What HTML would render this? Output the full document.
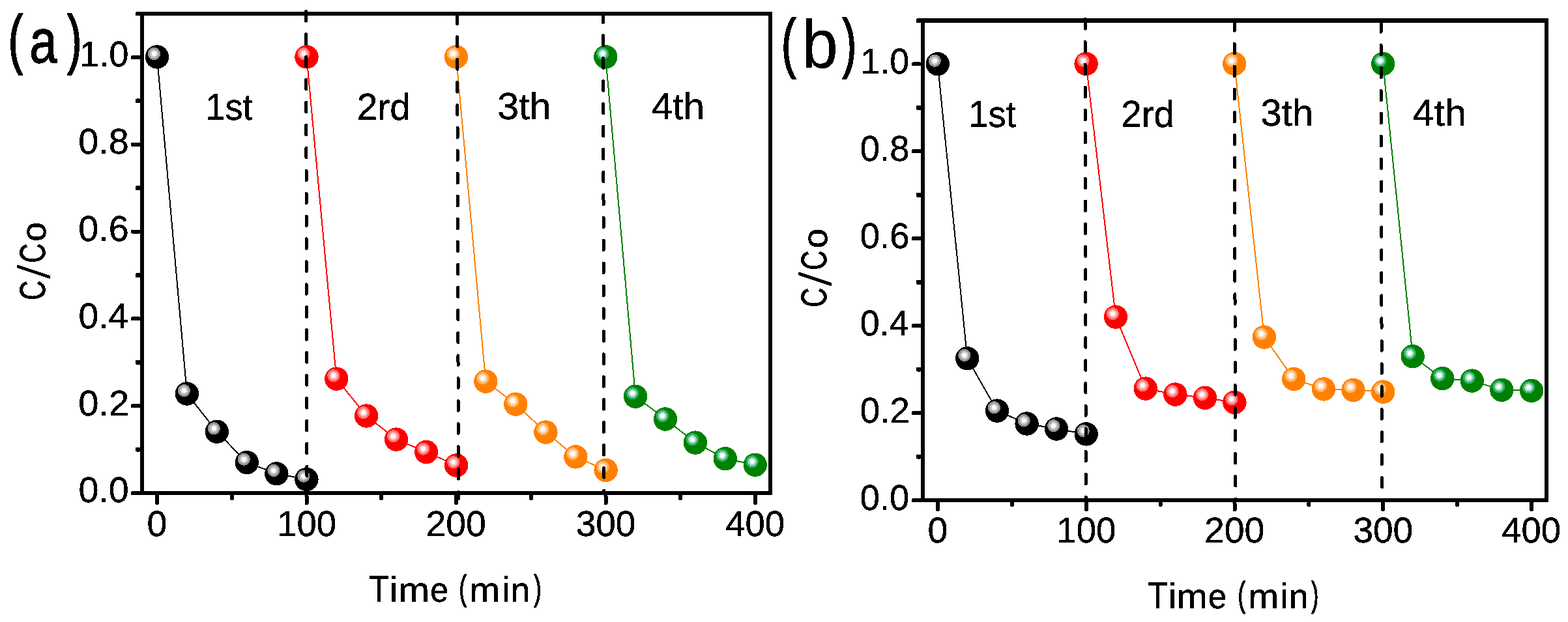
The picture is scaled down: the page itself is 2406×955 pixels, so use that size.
<!DOCTYPE html>
<html lang="en"><head><meta charset="utf-8"><title>C/Co vs Time (min) - panels (a) and (b)</title>
<style>html,body{margin:0;padding:0;background:#fff}body{width:2406px;height:955px;overflow:hidden}svg{display:block}</style>
</head><body>
<svg width="2406" height="955" viewBox="0 0 2406 955" shape-rendering="crispEdges">
<defs><filter id="hard" x="0" y="0" width="2406" height="955" filterUnits="userSpaceOnUse" color-interpolation-filters="sRGB"><feComponentTransfer><feFuncA type="discrete" tableValues="0 1"/></feComponentTransfer></filter></defs>
<rect width="2406" height="955" fill="#fff"/>
<g id="panel-a">
<g fill="none" stroke-width="2" stroke-linejoin="round">
<path d="M241.0,87.4 L286.9,604.5 L332.8,662.7 L378.8,710.1 L424.4,727.3 L470.4,736.0" stroke="#000000"/>
<path d="M470.5,87.4 L516.3,581.6 L562.2,638.5 L608.1,674.6 L654.1,694.0 L700.2,714.5" stroke="#ff0000"/>
<path d="M700.0,87.4 L745.3,585.6 L791.3,620.6 L837.4,663.6 L883.4,701.4 L929.6,721.9" stroke="#ff8000"/>
<path d="M929.3,87.4 L975.1,608.7 L1021.0,643.5 L1066.9,679.6 L1112.8,704.2 L1158.7,713.7" stroke="#008000"/>
</g>
<circle cx="241.0" cy="87.4" r="18.2" fill="#000000"/><circle cx="236.5" cy="82.5" r="9.6" fill="#969696"/><circle cx="236.5" cy="82.5" r="6.5" fill="#cacaca"/><circle cx="236.5" cy="82.5" r="3.6" fill="#fdfdfd"/>
<circle cx="286.9" cy="604.5" r="18.2" fill="#000000"/><circle cx="282.4" cy="599.6" r="9.6" fill="#969696"/><circle cx="282.4" cy="599.6" r="6.5" fill="#cacaca"/><circle cx="282.4" cy="599.6" r="3.6" fill="#fdfdfd"/>
<circle cx="332.8" cy="662.7" r="18.2" fill="#000000"/><circle cx="328.3" cy="657.8" r="9.6" fill="#969696"/><circle cx="328.3" cy="657.8" r="6.5" fill="#cacaca"/><circle cx="328.3" cy="657.8" r="3.6" fill="#fdfdfd"/>
<circle cx="378.8" cy="710.1" r="18.2" fill="#000000"/><circle cx="374.3" cy="705.2" r="9.6" fill="#969696"/><circle cx="374.3" cy="705.2" r="6.5" fill="#cacaca"/><circle cx="374.3" cy="705.2" r="3.6" fill="#fdfdfd"/>
<circle cx="424.4" cy="727.3" r="18.2" fill="#000000"/><circle cx="419.9" cy="722.4" r="9.6" fill="#969696"/><circle cx="419.9" cy="722.4" r="6.5" fill="#cacaca"/><circle cx="419.9" cy="722.4" r="3.6" fill="#fdfdfd"/>
<circle cx="470.4" cy="736.0" r="18.2" fill="#000000"/><circle cx="465.9" cy="731.1" r="9.6" fill="#969696"/><circle cx="465.9" cy="731.1" r="6.5" fill="#cacaca"/><circle cx="465.9" cy="731.1" r="3.6" fill="#fdfdfd"/>
<circle cx="470.5" cy="87.4" r="18.2" fill="#ff0000"/><circle cx="466.0" cy="82.5" r="9.6" fill="#ff7474"/><circle cx="466.0" cy="82.5" r="6.5" fill="#ffbaba"/><circle cx="466.0" cy="82.5" r="3.6" fill="#fff8f8"/>
<circle cx="516.3" cy="581.6" r="18.2" fill="#ff0000"/><circle cx="511.8" cy="576.7" r="9.6" fill="#ff7474"/><circle cx="511.8" cy="576.7" r="6.5" fill="#ffbaba"/><circle cx="511.8" cy="576.7" r="3.6" fill="#fff8f8"/>
<circle cx="562.2" cy="638.5" r="18.2" fill="#ff0000"/><circle cx="557.7" cy="633.6" r="9.6" fill="#ff7474"/><circle cx="557.7" cy="633.6" r="6.5" fill="#ffbaba"/><circle cx="557.7" cy="633.6" r="3.6" fill="#fff8f8"/>
<circle cx="608.1" cy="674.6" r="18.2" fill="#ff0000"/><circle cx="603.6" cy="669.7" r="9.6" fill="#ff7474"/><circle cx="603.6" cy="669.7" r="6.5" fill="#ffbaba"/><circle cx="603.6" cy="669.7" r="3.6" fill="#fff8f8"/>
<circle cx="654.1" cy="694.0" r="18.2" fill="#ff0000"/><circle cx="649.6" cy="689.1" r="9.6" fill="#ff7474"/><circle cx="649.6" cy="689.1" r="6.5" fill="#ffbaba"/><circle cx="649.6" cy="689.1" r="3.6" fill="#fff8f8"/>
<circle cx="700.2" cy="714.5" r="18.2" fill="#ff0000"/><circle cx="695.7" cy="709.6" r="9.6" fill="#ff7474"/><circle cx="695.7" cy="709.6" r="6.5" fill="#ffbaba"/><circle cx="695.7" cy="709.6" r="3.6" fill="#fff8f8"/>
<circle cx="700.0" cy="87.4" r="18.2" fill="#ff8000"/><circle cx="695.5" cy="82.5" r="9.6" fill="#ffb364"/><circle cx="695.5" cy="82.5" r="6.5" fill="#ffdcb8"/><circle cx="695.5" cy="82.5" r="3.6" fill="#fffaf6"/>
<circle cx="745.3" cy="585.6" r="18.2" fill="#ff8000"/><circle cx="740.8" cy="580.7" r="9.6" fill="#ffb364"/><circle cx="740.8" cy="580.7" r="6.5" fill="#ffdcb8"/><circle cx="740.8" cy="580.7" r="3.6" fill="#fffaf6"/>
<circle cx="791.3" cy="620.6" r="18.2" fill="#ff8000"/><circle cx="786.8" cy="615.7" r="9.6" fill="#ffb364"/><circle cx="786.8" cy="615.7" r="6.5" fill="#ffdcb8"/><circle cx="786.8" cy="615.7" r="3.6" fill="#fffaf6"/>
<circle cx="837.4" cy="663.6" r="18.2" fill="#ff8000"/><circle cx="832.9" cy="658.7" r="9.6" fill="#ffb364"/><circle cx="832.9" cy="658.7" r="6.5" fill="#ffdcb8"/><circle cx="832.9" cy="658.7" r="3.6" fill="#fffaf6"/>
<circle cx="883.4" cy="701.4" r="18.2" fill="#ff8000"/><circle cx="878.9" cy="696.5" r="9.6" fill="#ffb364"/><circle cx="878.9" cy="696.5" r="6.5" fill="#ffdcb8"/><circle cx="878.9" cy="696.5" r="3.6" fill="#fffaf6"/>
<circle cx="929.6" cy="721.9" r="18.2" fill="#ff8000"/><circle cx="925.1" cy="717.0" r="9.6" fill="#ffb364"/><circle cx="925.1" cy="717.0" r="6.5" fill="#ffdcb8"/><circle cx="925.1" cy="717.0" r="3.6" fill="#fffaf6"/>
<circle cx="929.3" cy="87.4" r="18.2" fill="#008000"/><circle cx="924.8" cy="82.5" r="9.6" fill="#2db56e"/><circle cx="924.8" cy="82.5" r="6.5" fill="#a8dcc0"/><circle cx="924.8" cy="82.5" r="3.6" fill="#f8fcf8"/>
<circle cx="975.1" cy="608.7" r="18.2" fill="#008000"/><circle cx="970.6" cy="603.8" r="9.6" fill="#2db56e"/><circle cx="970.6" cy="603.8" r="6.5" fill="#a8dcc0"/><circle cx="970.6" cy="603.8" r="3.6" fill="#f8fcf8"/>
<circle cx="1021.0" cy="643.5" r="18.2" fill="#008000"/><circle cx="1016.5" cy="638.6" r="9.6" fill="#2db56e"/><circle cx="1016.5" cy="638.6" r="6.5" fill="#a8dcc0"/><circle cx="1016.5" cy="638.6" r="3.6" fill="#f8fcf8"/>
<circle cx="1066.9" cy="679.6" r="18.2" fill="#008000"/><circle cx="1062.4" cy="674.7" r="9.6" fill="#2db56e"/><circle cx="1062.4" cy="674.7" r="6.5" fill="#a8dcc0"/><circle cx="1062.4" cy="674.7" r="3.6" fill="#f8fcf8"/>
<circle cx="1112.8" cy="704.2" r="18.2" fill="#008000"/><circle cx="1108.3" cy="699.3" r="9.6" fill="#2db56e"/><circle cx="1108.3" cy="699.3" r="6.5" fill="#a8dcc0"/><circle cx="1108.3" cy="699.3" r="3.6" fill="#f8fcf8"/>
<circle cx="1158.7" cy="713.7" r="18.2" fill="#008000"/><circle cx="1154.2" cy="708.8" r="9.6" fill="#2db56e"/><circle cx="1154.2" cy="708.8" r="6.5" fill="#a8dcc0"/><circle cx="1154.2" cy="708.8" r="3.6" fill="#f8fcf8"/>
<line x1="469.51" y1="17.50" x2="471" y2="754.50" stroke="#000" stroke-width="5" stroke-linecap="round" stroke-dasharray="14.60 20.34" stroke-dashoffset="0.0"/>
<line x1="701.51" y1="21.80" x2="703.6" y2="765.50" stroke="#000" stroke-width="5" stroke-linecap="round" stroke-dasharray="14.60 20.34" stroke-dashoffset="0.0"/>
<line x1="925.51" y1="20.50" x2="926.8" y2="757.50" stroke="#000" stroke-width="5" stroke-linecap="round" stroke-dasharray="14.60 20.34" stroke-dashoffset="0.8"/>
<rect x="215.00" y="18.00" width="6.00" height="742.00" fill="#000"/>
<rect x="1179.00" y="18.00" width="6.00" height="742.00" fill="#000"/>
<rect x="208.00" y="18.00" width="977.00" height="6.00" fill="#000" rx="2"/>
<rect x="201.00" y="754.00" width="984.00" height="6.00" fill="#000" rx="2"/>
<rect x="201.00" y="754.00" width="15.00" height="6.00" fill="#000" rx="2"/>
<rect x="208.00" y="686.60" width="8.00" height="7.00" fill="#000" rx="2"/>
<rect x="201.00" y="620.20" width="15.00" height="6.00" fill="#000" rx="2"/>
<rect x="208.00" y="552.80" width="8.00" height="7.00" fill="#000" rx="2"/>
<rect x="201.00" y="486.40" width="15.00" height="6.00" fill="#000" rx="2"/>
<rect x="208.00" y="419.00" width="8.00" height="7.00" fill="#000" rx="2"/>
<rect x="201.00" y="352.60" width="15.00" height="6.00" fill="#000" rx="2"/>
<rect x="208.00" y="285.20" width="8.00" height="7.00" fill="#000" rx="2"/>
<rect x="201.00" y="218.80" width="15.00" height="6.00" fill="#000" rx="2"/>
<rect x="208.00" y="151.40" width="8.00" height="7.00" fill="#000" rx="2"/>
<rect x="201.00" y="85.00" width="15.00" height="6.00" fill="#000" rx="2"/>
<rect x="238.00" y="759.00" width="6.00" height="16.00" fill="#000" rx="2.5"/>
<rect x="352.75" y="759.00" width="6.00" height="9.00" fill="#000" rx="2.5"/>
<rect x="467.50" y="759.00" width="6.00" height="16.00" fill="#000" rx="2.5"/>
<rect x="582.25" y="759.00" width="6.00" height="9.00" fill="#000" rx="2.5"/>
<rect x="697.00" y="759.00" width="6.00" height="16.00" fill="#000" rx="2.5"/>
<rect x="811.75" y="759.00" width="6.00" height="9.00" fill="#000" rx="2.5"/>
<rect x="926.50" y="759.00" width="6.00" height="16.00" fill="#000" rx="2.5"/>
<rect x="1041.25" y="759.00" width="6.00" height="9.00" fill="#000" rx="2.5"/>
<rect x="1156.00" y="759.00" width="6.00" height="16.00" fill="#000" rx="2.5"/>
<g font-family='"Liberation Sans", sans-serif' fill="#000" stroke="#000" stroke-width="0.4" filter="url(#hard)">
<text transform="translate(120.38,771.40) scale(0.9848,1)" font-size="56.4">0.0</text>
<text transform="translate(120.36,637.60) scale(0.9943,1)" font-size="56.4">0.2</text>
<text transform="translate(120.40,503.80) scale(0.9774,1)" font-size="56.4">0.4</text>
<text transform="translate(120.37,370.00) scale(0.9886,1)" font-size="56.4">0.6</text>
<text transform="translate(120.37,236.20) scale(0.9886,1)" font-size="56.4">0.8</text>
<text transform="translate(122.03,102.40) scale(0.9632,1)" font-size="56.4">1.0</text>
<text transform="translate(225.59,823.20) scale(0.9803,1)" font-size="56.4">0</text>
<text transform="translate(425.26,823.20) scale(0.9658,1)" font-size="56.4">100</text>
<text transform="translate(653.48,823.20) scale(0.9819,1)" font-size="56.4">200</text>
<text transform="translate(883.69,823.20) scale(0.9742,1)" font-size="56.4">300</text>
<text transform="translate(1113.23,823.20) scale(0.9651,1)" font-size="56.4">400</text>
<text transform="translate(315.44,184.00) scale(0.9502,1)" font-size="57">1st</text>
<text transform="translate(547.76,184.30) scale(0.9954,1)" font-size="57">2rd</text>
<text transform="translate(763.18,183.00) scale(1.0397,1)" font-size="57">3th</text>
<text transform="translate(999.78,183.00) scale(1.0277,1)" font-size="57">4th</text>
<text aria-label="Time (min)" stroke="#000" stroke-linejoin="round"><tspan x="566.32" y="923.75" font-size="56.87" textLength="30.71" lengthAdjust="spacingAndGlyphs" stroke-width="0.5">T</tspan><tspan x="597.95" y="923.75" font-size="54.62" textLength="12.19" lengthAdjust="spacingAndGlyphs" stroke-width="0.5">i</tspan><tspan x="611.18" y="923.75" font-size="53.21" textLength="47.72" lengthAdjust="spacingAndGlyphs" stroke-width="0.5">m</tspan><tspan x="660.13" y="924.01" font-size="53.70" textLength="27.69" lengthAdjust="spacingAndGlyphs" stroke-width="0.5">e</tspan> <tspan x="704.56" y="920.81" font-size="53.94" textLength="11.42" lengthAdjust="spacingAndGlyphs" stroke-width="1.6">(</tspan><tspan x="720.35" y="923.75" font-size="53.21" textLength="46.89" lengthAdjust="spacingAndGlyphs" stroke-width="0.5">m</tspan><tspan x="770.15" y="923.75" font-size="54.62" textLength="12.19" lengthAdjust="spacingAndGlyphs" stroke-width="0.5">i</tspan><tspan x="783.54" y="923.75" font-size="53.21" textLength="29.75" lengthAdjust="spacingAndGlyphs" stroke-width="0.5">n</tspan><tspan x="819.24" y="920.81" font-size="53.94" textLength="11.42" lengthAdjust="spacingAndGlyphs" stroke-width="1.6">)</tspan></text>
<text transform="rotate(-90)" aria-label="C/Co" stroke="#000" stroke-linejoin="round"><tspan x="-460.89" y="69.24" font-size="55.69" textLength="30.26" lengthAdjust="spacingAndGlyphs" stroke-width="0.8">C</tspan><tspan x="-427.30" y="76.26" font-size="74.48" textLength="20.03" lengthAdjust="spacingAndGlyphs" stroke-width="1.8" font-family='"Liberation Serif", serif'>/</tspan><tspan x="-403.69" y="69.24" font-size="55.69" textLength="30.14" lengthAdjust="spacingAndGlyphs" stroke-width="0.8">C</tspan><tspan x="-370.67" y="69.96" font-size="53.70" textLength="29.66" lengthAdjust="spacingAndGlyphs" stroke-width="0.6">o</tspan></text>
<text aria-label="(a)" stroke="#000" stroke-linejoin="round"><tspan x="12.79" y="93.82" font-size="99.20" textLength="22.45" lengthAdjust="spacingAndGlyphs" stroke-width="2.4">(</tspan><tspan x="45.15" y="96.26" font-size="94.06" textLength="42.54" lengthAdjust="spacingAndGlyphs" stroke-width="1.6">a</tspan><tspan x="103.30" y="93.82" font-size="99.20" textLength="22.07" lengthAdjust="spacingAndGlyphs" stroke-width="2.4">)</tspan></text>
</g>
</g>
<g id="panel-b">
<g fill="none" stroke-width="2" stroke-linejoin="round">
<path d="M1438.8,98.2 L1484.3,550.3 L1530.0,630.6 L1575.6,650.5 L1621.1,658.5 L1666.7,666.4" stroke="#000000"/>
<path d="M1666.6,98.0 L1712.0,486.6 L1757.8,596.6 L1803.4,605.6 L1849.0,610.7 L1894.4,617.8" stroke="#ff0000"/>
<path d="M1894.2,98.0 L1939.9,517.6 L1985.3,581.9 L2031.0,597.4 L2076.5,598.9 L2122.2,601.6" stroke="#ff8000"/>
<path d="M2122.2,98.0 L2167.7,547.2 L2213.3,581.1 L2258.7,584.6 L2304.3,598.7 L2350.1,599.8" stroke="#008000"/>
</g>
<circle cx="1438.8" cy="98.2" r="18.2" fill="#000000"/><circle cx="1434.3" cy="93.3" r="9.6" fill="#969696"/><circle cx="1434.3" cy="93.3" r="6.5" fill="#cacaca"/><circle cx="1434.3" cy="93.3" r="3.6" fill="#fdfdfd"/>
<circle cx="1484.3" cy="550.3" r="18.2" fill="#000000"/><circle cx="1479.8" cy="545.4" r="9.6" fill="#969696"/><circle cx="1479.8" cy="545.4" r="6.5" fill="#cacaca"/><circle cx="1479.8" cy="545.4" r="3.6" fill="#fdfdfd"/>
<circle cx="1530.0" cy="630.6" r="18.2" fill="#000000"/><circle cx="1525.5" cy="625.7" r="9.6" fill="#969696"/><circle cx="1525.5" cy="625.7" r="6.5" fill="#cacaca"/><circle cx="1525.5" cy="625.7" r="3.6" fill="#fdfdfd"/>
<circle cx="1575.6" cy="650.5" r="18.2" fill="#000000"/><circle cx="1571.1" cy="645.6" r="9.6" fill="#969696"/><circle cx="1571.1" cy="645.6" r="6.5" fill="#cacaca"/><circle cx="1571.1" cy="645.6" r="3.6" fill="#fdfdfd"/>
<circle cx="1621.1" cy="658.5" r="18.2" fill="#000000"/><circle cx="1616.6" cy="653.6" r="9.6" fill="#969696"/><circle cx="1616.6" cy="653.6" r="6.5" fill="#cacaca"/><circle cx="1616.6" cy="653.6" r="3.6" fill="#fdfdfd"/>
<circle cx="1666.7" cy="666.4" r="18.2" fill="#000000"/><circle cx="1662.2" cy="661.5" r="9.6" fill="#969696"/><circle cx="1662.2" cy="661.5" r="6.5" fill="#cacaca"/><circle cx="1662.2" cy="661.5" r="3.6" fill="#fdfdfd"/>
<circle cx="1666.6" cy="98.0" r="18.2" fill="#ff0000"/><circle cx="1662.1" cy="93.1" r="9.6" fill="#ff7474"/><circle cx="1662.1" cy="93.1" r="6.5" fill="#ffbaba"/><circle cx="1662.1" cy="93.1" r="3.6" fill="#fff8f8"/>
<circle cx="1712.0" cy="486.6" r="18.2" fill="#ff0000"/><circle cx="1707.5" cy="481.7" r="9.6" fill="#ff7474"/><circle cx="1707.5" cy="481.7" r="6.5" fill="#ffbaba"/><circle cx="1707.5" cy="481.7" r="3.6" fill="#fff8f8"/>
<circle cx="1757.8" cy="596.6" r="18.2" fill="#ff0000"/><circle cx="1753.3" cy="591.7" r="9.6" fill="#ff7474"/><circle cx="1753.3" cy="591.7" r="6.5" fill="#ffbaba"/><circle cx="1753.3" cy="591.7" r="3.6" fill="#fff8f8"/>
<circle cx="1803.4" cy="605.6" r="18.2" fill="#ff0000"/><circle cx="1798.9" cy="600.7" r="9.6" fill="#ff7474"/><circle cx="1798.9" cy="600.7" r="6.5" fill="#ffbaba"/><circle cx="1798.9" cy="600.7" r="3.6" fill="#fff8f8"/>
<circle cx="1849.0" cy="610.7" r="18.2" fill="#ff0000"/><circle cx="1844.5" cy="605.8" r="9.6" fill="#ff7474"/><circle cx="1844.5" cy="605.8" r="6.5" fill="#ffbaba"/><circle cx="1844.5" cy="605.8" r="3.6" fill="#fff8f8"/>
<circle cx="1894.4" cy="617.8" r="18.2" fill="#ff0000"/><circle cx="1889.9" cy="612.9" r="9.6" fill="#ff7474"/><circle cx="1889.9" cy="612.9" r="6.5" fill="#ffbaba"/><circle cx="1889.9" cy="612.9" r="3.6" fill="#fff8f8"/>
<circle cx="1894.2" cy="98.0" r="18.2" fill="#ff8000"/><circle cx="1889.7" cy="93.1" r="9.6" fill="#ffb364"/><circle cx="1889.7" cy="93.1" r="6.5" fill="#ffdcb8"/><circle cx="1889.7" cy="93.1" r="3.6" fill="#fffaf6"/>
<circle cx="1939.9" cy="517.6" r="18.2" fill="#ff8000"/><circle cx="1935.4" cy="512.7" r="9.6" fill="#ffb364"/><circle cx="1935.4" cy="512.7" r="6.5" fill="#ffdcb8"/><circle cx="1935.4" cy="512.7" r="3.6" fill="#fffaf6"/>
<circle cx="1985.3" cy="581.9" r="18.2" fill="#ff8000"/><circle cx="1980.8" cy="577.0" r="9.6" fill="#ffb364"/><circle cx="1980.8" cy="577.0" r="6.5" fill="#ffdcb8"/><circle cx="1980.8" cy="577.0" r="3.6" fill="#fffaf6"/>
<circle cx="2031.0" cy="597.4" r="18.2" fill="#ff8000"/><circle cx="2026.5" cy="592.5" r="9.6" fill="#ffb364"/><circle cx="2026.5" cy="592.5" r="6.5" fill="#ffdcb8"/><circle cx="2026.5" cy="592.5" r="3.6" fill="#fffaf6"/>
<circle cx="2076.5" cy="598.9" r="18.2" fill="#ff8000"/><circle cx="2072.0" cy="594.0" r="9.6" fill="#ffb364"/><circle cx="2072.0" cy="594.0" r="6.5" fill="#ffdcb8"/><circle cx="2072.0" cy="594.0" r="3.6" fill="#fffaf6"/>
<circle cx="2122.2" cy="601.6" r="18.2" fill="#ff8000"/><circle cx="2117.7" cy="596.7" r="9.6" fill="#ffb364"/><circle cx="2117.7" cy="596.7" r="6.5" fill="#ffdcb8"/><circle cx="2117.7" cy="596.7" r="3.6" fill="#fffaf6"/>
<circle cx="2122.2" cy="98.0" r="18.2" fill="#008000"/><circle cx="2117.7" cy="93.1" r="9.6" fill="#2db56e"/><circle cx="2117.7" cy="93.1" r="6.5" fill="#a8dcc0"/><circle cx="2117.7" cy="93.1" r="3.6" fill="#f8fcf8"/>
<circle cx="2167.7" cy="547.2" r="18.2" fill="#008000"/><circle cx="2163.2" cy="542.3" r="9.6" fill="#2db56e"/><circle cx="2163.2" cy="542.3" r="6.5" fill="#a8dcc0"/><circle cx="2163.2" cy="542.3" r="3.6" fill="#f8fcf8"/>
<circle cx="2213.3" cy="581.1" r="18.2" fill="#008000"/><circle cx="2208.8" cy="576.2" r="9.6" fill="#2db56e"/><circle cx="2208.8" cy="576.2" r="6.5" fill="#a8dcc0"/><circle cx="2208.8" cy="576.2" r="3.6" fill="#f8fcf8"/>
<circle cx="2258.7" cy="584.6" r="18.2" fill="#008000"/><circle cx="2254.2" cy="579.7" r="9.6" fill="#2db56e"/><circle cx="2254.2" cy="579.7" r="6.5" fill="#a8dcc0"/><circle cx="2254.2" cy="579.7" r="3.6" fill="#f8fcf8"/>
<circle cx="2304.3" cy="598.7" r="18.2" fill="#008000"/><circle cx="2299.8" cy="593.8" r="9.6" fill="#2db56e"/><circle cx="2299.8" cy="593.8" r="6.5" fill="#a8dcc0"/><circle cx="2299.8" cy="593.8" r="3.6" fill="#f8fcf8"/>
<circle cx="2350.1" cy="599.8" r="18.2" fill="#008000"/><circle cx="2345.6" cy="594.9" r="9.6" fill="#2db56e"/><circle cx="2345.6" cy="594.9" r="6.5" fill="#a8dcc0"/><circle cx="2345.6" cy="594.9" r="3.6" fill="#f8fcf8"/>
<line x1="1665.20" y1="29.50" x2="1666.2" y2="768.50" stroke="#000" stroke-width="5" stroke-linecap="round" stroke-dasharray="14.60 20.34" stroke-dashoffset="0.0"/>
<line x1="1894.20" y1="32.50" x2="1895.6" y2="768.50" stroke="#000" stroke-width="5" stroke-linecap="round" stroke-dasharray="14.60 20.34" stroke-dashoffset="0.0"/>
<line x1="2119.01" y1="34.50" x2="2120.6" y2="768.50" stroke="#000" stroke-width="5" stroke-linecap="round" stroke-dasharray="14.60 20.34" stroke-dashoffset="0.0"/>
<rect x="1413.00" y="28.00" width="6.00" height="743.00" fill="#000"/>
<rect x="2369.50" y="28.00" width="6.50" height="743.00" fill="#000"/>
<rect x="1406.00" y="28.00" width="970.00" height="7.00" fill="#000" rx="2"/>
<rect x="1399.00" y="765.00" width="977.00" height="6.00" fill="#000" rx="2"/>
<rect x="1399.00" y="765.00" width="15.00" height="6.00" fill="#000" rx="2"/>
<rect x="1406.00" y="697.54" width="8.00" height="7.00" fill="#000" rx="2"/>
<rect x="1399.00" y="631.08" width="15.00" height="6.00" fill="#000" rx="2"/>
<rect x="1406.00" y="563.62" width="8.00" height="7.00" fill="#000" rx="2"/>
<rect x="1399.00" y="497.16" width="15.00" height="6.00" fill="#000" rx="2"/>
<rect x="1406.00" y="429.70" width="8.00" height="7.00" fill="#000" rx="2"/>
<rect x="1399.00" y="363.24" width="15.00" height="6.00" fill="#000" rx="2"/>
<rect x="1406.00" y="295.78" width="8.00" height="7.00" fill="#000" rx="2"/>
<rect x="1399.00" y="229.32" width="15.00" height="6.00" fill="#000" rx="2"/>
<rect x="1406.00" y="161.86" width="8.00" height="7.00" fill="#000" rx="2"/>
<rect x="1399.00" y="95.40" width="15.00" height="6.00" fill="#000" rx="2"/>
<rect x="1436.00" y="770.00" width="6.00" height="15.00" fill="#000" rx="2.5"/>
<rect x="1549.88" y="770.00" width="6.00" height="8.00" fill="#000" rx="2.5"/>
<rect x="1663.75" y="770.00" width="6.00" height="15.00" fill="#000" rx="2.5"/>
<rect x="1777.62" y="770.00" width="6.00" height="8.00" fill="#000" rx="2.5"/>
<rect x="1891.50" y="770.00" width="6.00" height="15.00" fill="#000" rx="2.5"/>
<rect x="2005.38" y="770.00" width="6.00" height="8.00" fill="#000" rx="2.5"/>
<rect x="2119.25" y="770.00" width="6.00" height="15.00" fill="#000" rx="2.5"/>
<rect x="2233.12" y="770.00" width="6.00" height="8.00" fill="#000" rx="2.5"/>
<rect x="2347.00" y="770.00" width="6.00" height="15.00" fill="#000" rx="2.5"/>
<g font-family='"Liberation Sans", sans-serif' fill="#000" stroke="#000" stroke-width="0.4" filter="url(#hard)">
<text transform="translate(1319.83,782.50) scale(0.9618,1)" font-size="56.4">0.0</text>
<text transform="translate(1319.81,648.58) scale(0.9711,1)" font-size="56.4">0.2</text>
<text transform="translate(1319.85,514.66) scale(0.9546,1)" font-size="56.4">0.4</text>
<text transform="translate(1319.82,380.74) scale(0.9655,1)" font-size="56.4">0.6</text>
<text transform="translate(1319.82,246.82) scale(0.9655,1)" font-size="56.4">0.8</text>
<text transform="translate(1320.57,112.90) scale(0.9521,1)" font-size="56.4">1.0</text>
<text transform="translate(1423.59,833.40) scale(0.9803,1)" font-size="56.4">0</text>
<text transform="translate(1621.51,833.40) scale(0.9658,1)" font-size="56.4">100</text>
<text transform="translate(1847.98,833.40) scale(0.9819,1)" font-size="56.4">200</text>
<text transform="translate(2076.44,833.40) scale(0.9742,1)" font-size="56.4">300</text>
<text transform="translate(2304.23,833.40) scale(0.9651,1)" font-size="56.4">400</text>
<text transform="translate(1486.33,194.60) scale(0.9530,1)" font-size="57">1st</text>
<text transform="translate(1720.27,194.60) scale(0.9927,1)" font-size="57">2rd</text>
<text transform="translate(1934.52,193.00) scale(1.0192,1)" font-size="57">3th</text>
<text transform="translate(2167.57,193.00) scale(1.0398,1)" font-size="57">4th</text>
<text aria-label="Time (min)" stroke="#000" stroke-linejoin="round"><tspan x="1760.90" y="933.55" font-size="56.58" textLength="31.14" lengthAdjust="spacingAndGlyphs" stroke-width="0.5">T</tspan><tspan x="1792.95" y="933.55" font-size="54.62" textLength="12.19" lengthAdjust="spacingAndGlyphs" stroke-width="0.5">i</tspan><tspan x="1805.39" y="933.55" font-size="52.84" textLength="47.60" lengthAdjust="spacingAndGlyphs" stroke-width="0.5">m</tspan><tspan x="1854.10" y="934.01" font-size="53.70" textLength="28.16" lengthAdjust="spacingAndGlyphs" stroke-width="0.5">e</tspan> <tspan x="1899.46" y="930.81" font-size="53.94" textLength="11.42" lengthAdjust="spacingAndGlyphs" stroke-width="1.6">(</tspan><tspan x="1915.35" y="933.55" font-size="52.84" textLength="46.89" lengthAdjust="spacingAndGlyphs" stroke-width="0.5">m</tspan><tspan x="1964.15" y="933.55" font-size="54.62" textLength="12.19" lengthAdjust="spacingAndGlyphs" stroke-width="0.5">i</tspan><tspan x="1977.99" y="933.55" font-size="52.84" textLength="29.36" lengthAdjust="spacingAndGlyphs" stroke-width="0.5">n</tspan><tspan x="2012.35" y="930.81" font-size="53.94" textLength="10.91" lengthAdjust="spacingAndGlyphs" stroke-width="1.6">)</tspan></text>
<text transform="rotate(-90)" aria-label="C/Co" stroke="#000" stroke-linejoin="round"><tspan x="-471.67" y="1268.14" font-size="55.69" textLength="29.92" lengthAdjust="spacingAndGlyphs" stroke-width="0.8">C</tspan><tspan x="-438.40" y="1275.35" font-size="74.78" textLength="20.23" lengthAdjust="spacingAndGlyphs" stroke-width="1.8" font-family='"Liberation Serif", serif'>/</tspan><tspan x="-414.79" y="1268.14" font-size="55.69" textLength="30.14" lengthAdjust="spacingAndGlyphs" stroke-width="0.8">C</tspan><tspan x="-381.22" y="1269.36" font-size="54.43" textLength="30.37" lengthAdjust="spacingAndGlyphs" stroke-width="0.6">o</tspan></text>
<text aria-label="(b)" stroke="#000" stroke-linejoin="round"><tspan x="1199.01" y="99.87" font-size="99.99" textLength="22.33" lengthAdjust="spacingAndGlyphs" stroke-width="2.4">(</tspan><tspan x="1230.58" y="103.12" font-size="103.40" textLength="55.37" lengthAdjust="spacingAndGlyphs" stroke-width="0.3">b</tspan><tspan x="1292.61" y="99.87" font-size="99.99" textLength="21.69" lengthAdjust="spacingAndGlyphs" stroke-width="2.4">)</tspan></text>
</g>
</g>
</svg></body></html>
